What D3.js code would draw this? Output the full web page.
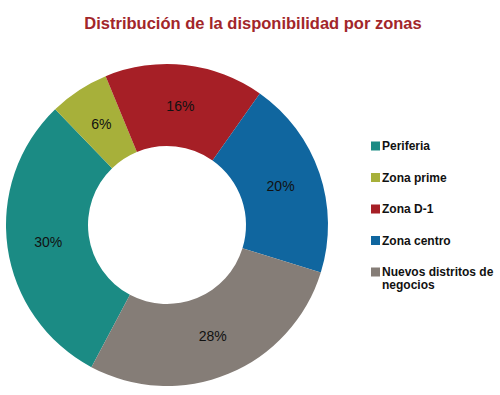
<!DOCTYPE html>
<html>
<head>
<meta charset="utf-8">
<script src="https://cdn.jsdelivr.net/npm/d3@7"></script>
<style>
  body { margin: 0; background: #fff; }
  svg { display: block; font-family: "Liberation Sans", Arial, sans-serif; }
</style>
</head>
<body>
<div id="chart"></div>
<script>
// data
var zonas = ['Periferia', 'Zona prime', 'Zona D-1', 'Zona centro', 'Nuevos distritos de negocios'];
var valores = [30, 6, 16, 20, 28];
var colores = ['#1b8b84', '#a7b03a', '#a61f26', '#10669f', '#857d77'];

var width = 500, height = 395;
var cx = 167, cy = 225, r_outer = 161, r_inner = 79;

var svg = d3.select('#chart').append('svg')
    .attr('width', width)
    .attr('height', height);

svg.append('text')
    .text('Distribución de la disponibilidad por zonas')
    .attr('x', 253)
    .attr('y', 29)
    .attr('text-anchor', 'middle')
    .attr('font-size', '16.5px')
    .attr('font-weight', 'bold')
    .attr('fill', '#a2262a');

var color = d3.scaleOrdinal().domain(zonas).range(colores);

var start = 208 * Math.PI / 180;
var pie = d3.pie().sort(null)
    .startAngle(start)
    .endAngle(start + 2 * Math.PI)
    .value(function (d) { return d.valor; });

var datos = zonas.map(function (z, i) { return {zona: z, valor: valores[i]}; });

var arc = d3.arc().innerRadius(r_inner).outerRadius(r_outer);
var arc_label = d3.arc().innerRadius(120).outerRadius(120);

var g = svg.append('g').attr('transform', 'translate(' + cx + ',' + cy + ')');

g.selectAll('path').data(pie(datos)).enter().append('path')
    .attr('d', arc)
    .attr('fill', function (d) { return color(d.data.zona); });

g.selectAll('text.pct').data(pie(datos)).enter().append('text')
    .attr('class', 'pct')
    .attr('transform', function (d) { return 'translate(' + arc_label.centroid(d) + ')'; })
    .attr('dy', '0.35em')
    .attr('text-anchor', 'middle')
    .attr('font-size', '14px')
    .attr('fill', '#111')
    .text(function (d) { return d.data.valor + '%'; });

// legend
var ley_y = d3.scalePoint().domain(zonas).range([146, 272]);

var ley = svg.append('g').selectAll('g').data(zonas).enter().append('g')
    .attr('transform', function (d) { return 'translate(371,' + ley_y(d) + ')'; });

ley.append('rect')
    .attr('x', 0).attr('y', -4.5)
    .attr('width', 9).attr('height', 9)
    .attr('fill', function (d) { return color(d); });

ley.append('text')
    .attr('font-size', '12px')
    .attr('font-weight', 'bold')
    .attr('fill', '#111')
    .each(function (d) {
        var t = d3.select(this);
        var lineas = d === 'Nuevos distritos de negocios' ? ['Nuevos distritos de', 'negocios'] : [d];
        lineas.forEach(function (l, i) {
            t.append('tspan').attr('x', 11).attr('dy', i === 0 ? '0.35em' : '13px').text(l);
        });
    });
</script>
</body>
</html>
